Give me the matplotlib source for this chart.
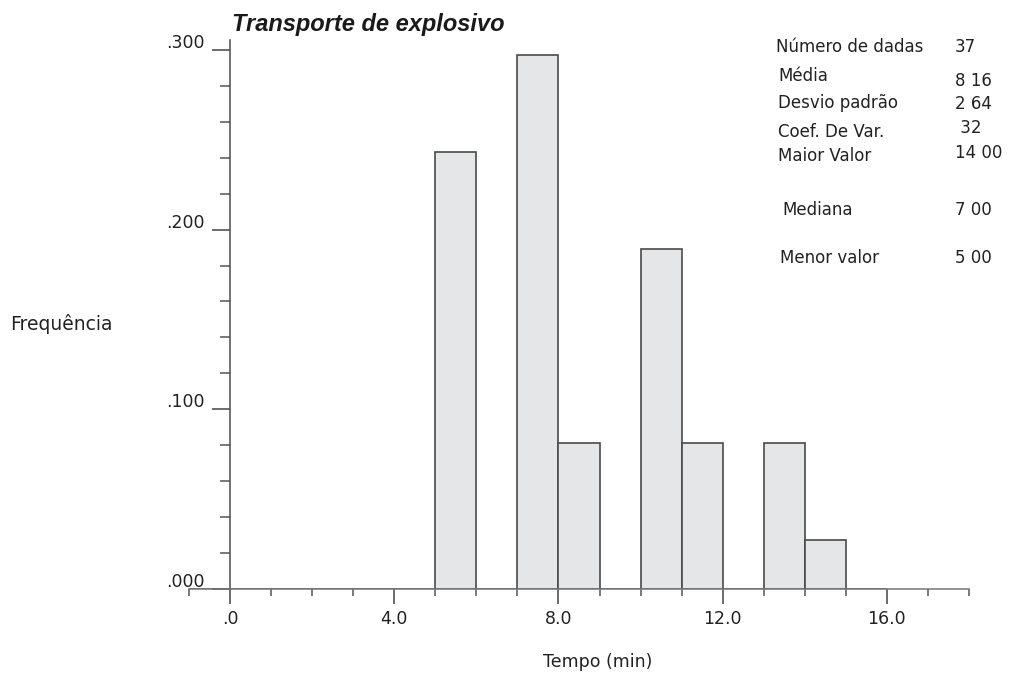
import numpy as np
import matplotlib.pyplot as plt
from matplotlib.ticker import MultipleLocator, FixedLocator

# histogram of explosive transport times (1 min classes)
BIN_LEFT = list(range(-1, 16))
COUNTS = [0, 0, 0, 0, 0, 0, 9, 0, 11, 3, 0, 7, 3, 0, 3, 1, 0]
N_DATA = 37

STAT_NAMES = ['Número de dadas', 'Média', 'Desvio padrão', 'Coef. De Var.',
              'Maior Valor', 'Mediana', 'Menor valor']
STAT_VALUES = ['37', '8 16', '2 64', ' 32', '14 00', '7 00', '5 00']

XTICKS = [0, 4, 8, 12, 16]
XTICK_LABELS = ['.0', '4.0', '8.0', '12.0', '16.0']
YTICKS = [0.0, 0.1, 0.2, 0.3]
YTICK_LABELS = ['.000', '.100', '.200', '.300']

W, H = 1012, 677
BODY = 'DejaVu Sans'
TXT = '#222222'
FS = 12.5

freq = np.array(COUNTS) / N_DATA

fig = plt.figure(figsize=(W / 100, H / 100), dpi=100)
# axes placed in pixel units: x -1..18 -> 189..969, y 0..0.3055 -> 589..40
ax = fig.add_axes([189 / W, (H - 589) / H, (969 - 189) / W, (589 - 40) / H])
ax.set_xlim(-1, 18)
ax.set_ylim(0, 0.3055)

ax.bar(BIN_LEFT, freq, width=1.0, align='edge', color='#e5e6e8',
       edgecolor='#4a4a4a', linewidth=1.2, zorder=2)

for s in ['top', 'right']:
    ax.spines[s].set_visible(False)
ax.spines['left'].set_position(('data', 0))
ax.spines['left'].set_color('#4d4d4d')
ax.spines['bottom'].set_color('#777777')
ax.spines['left'].set_linewidth(1.1)
ax.spines['bottom'].set_linewidth(1.1)

ax.xaxis.set_major_locator(FixedLocator(XTICKS))
ax.xaxis.set_minor_locator(MultipleLocator(1))
ax.set_xticklabels(XTICK_LABELS)
ax.yaxis.set_major_locator(FixedLocator(YTICKS))
ax.yaxis.set_minor_locator(MultipleLocator(0.02))
ax.set_yticklabels([])

ax.tick_params(axis='x', which='major', direction='out', length=11, width=1.1,
               color='#444444', pad=4, labelsize=FS, labelcolor=TXT)
ax.tick_params(axis='x', which='minor', direction='out', length=5, width=1.1,
               color='#555555')
ax.tick_params(axis='y', which='major', direction='out', length=13, width=1.1,
               color='#444444')
ax.tick_params(axis='y', which='minor', direction='out', length=7, width=1.1,
               color='#555555')
for lab in ax.get_xticklabels():
    lab.set_family(BODY)

# y labels sit slightly above their ticks
for v, t in zip(YTICKS, YTICK_LABELS):
    ax.annotate(t, xy=(0, v), xytext=(-18, 5), textcoords='offset points',
                ha='right', va='center', fontsize=FS, family=BODY, color=TXT,
                annotation_clip=False)


def px(x, y):
    return x / W, 1 - y / H


fig.text(*px(232, 24), 'Transporte de explosivo', fontsize=17,
         family='Liberation Sans', weight='bold', style='italic',
         color='#1a1a1a', ha='left', va='center')
fig.text(*px(10, 324), 'Frequência', fontsize=13.5, family=BODY, color=TXT,
         ha='left', va='center')
fig.text(*px(598, 662), 'Tempo (min)', fontsize=FS, family=BODY, color=TXT,
         ha='center', va='center')

name_pos = [(776, 47), (778, 76), (778, 103), (778, 132), (778, 156),
            (782, 210), (780, 258)]
value_pos = [(955, 47), (955, 81), (955, 104), (955, 128), (955, 153),
             (955, 210), (955, 258)]
for name, val, npos, vpos in zip(STAT_NAMES, STAT_VALUES, name_pos, value_pos):
    fig.text(*px(*npos), name, fontsize=12, family=BODY, color=TXT,
             ha='left', va='center')
    fig.text(*px(*vpos), val, fontsize=12, family=BODY, color=TXT,
             ha='left', va='center')

fig.savefig('out.png', dpi=100)
